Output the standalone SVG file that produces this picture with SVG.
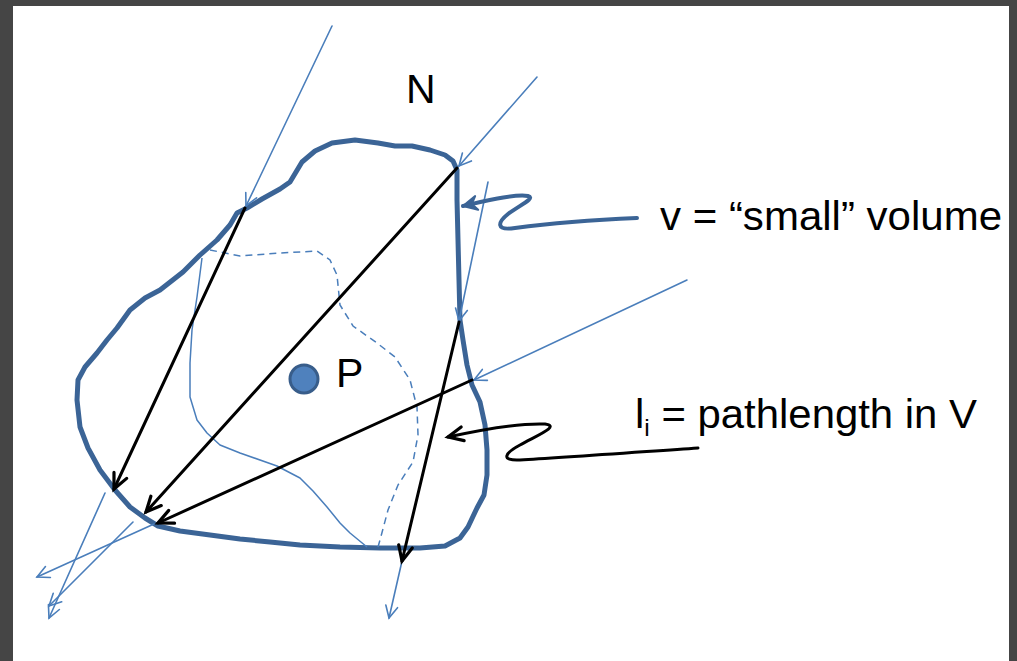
<svg xmlns="http://www.w3.org/2000/svg" width="1017" height="661" viewBox="0 0 1017 661">
<style>
.blob{fill:none;stroke:#3b6496;stroke-width:5;stroke-linejoin:round;stroke-linecap:round}
.ray{fill:none;stroke:#4a7ebb;stroke-width:1.6;stroke-linecap:round}
.path{fill:none;stroke:#000;stroke-width:3;stroke-linecap:round}
.thin{fill:none;stroke:#4a7ebb;stroke-width:1.5;stroke-linejoin:round}
.dash{fill:none;stroke:#4a7ebb;stroke-width:1.5;stroke-dasharray:7 5}
.lbl{font-family:"Liberation Sans",Arial,sans-serif;font-size:41px;fill:#000}
</style>
<defs>
<marker id="ab" markerUnits="userSpaceOnUse" markerWidth="30" markerHeight="30" viewBox="-20 -15 30 30" refX="0" refY="0" orient="auto" overflow="visible">
<path d="M-15,-7 L0,0 L-15,7" fill="none" stroke="#000" stroke-width="3.2" stroke-linecap="round" stroke-linejoin="miter"/>
</marker>
<marker id="abl" markerUnits="userSpaceOnUse" markerWidth="30" markerHeight="30" viewBox="-20 -15 30 30" refX="0" refY="0" orient="auto" overflow="visible">
<path d="M-12,-6 L0,0 L-12,6" fill="none" stroke="#4a7ebb" stroke-width="1.6" stroke-linecap="round"/>
</marker>
<marker id="asq" markerUnits="userSpaceOnUse" markerWidth="30" markerHeight="30" viewBox="-20 -15 30 30" refX="0" refY="0" orient="auto" overflow="visible">
<path d="M-14,-7 L0,0 L-14,7 L-9,0 Z" fill="#3b6496" stroke="#3b6496" stroke-width="2" stroke-linejoin="round"/>
</marker>
</defs>
<rect x="0" y="0" width="1017" height="661" fill="#454545"/>
<rect x="13" y="6" width="996" height="655" fill="#ffffff"/>

<g id="volume-blob">
<path class="blob" d="M247,208 L262,199 L280,189 L290,182 L296,172 L302,162 L315,151 L332,143 L355,140 L378,143 L395,146 L412,146 L430,150 L445,155 L453,161 L457,170 L457,200 L458,240 L459,280 L460,320 L463,340 L467,365 L472,385 L480,402 L485,425 L487,450 L487,475 L484,495 L477,508 L468,527 L460,538 L445,546 L420,548 L380,548 L340,547 L300,545 L270,542 L240,539 L210,535 L180,531 L158,526 L145,518 L130,507 L115,490 L100,470 L88,448 L80,427 L77,400 L78,380 L85,367 L97,353 L107,340 L117,328 L130,310 L145,298 L160,290 L183,272 L200,255 L217,240 L230,225 L237,213 Z"/>
</g>

<g id="inner-regions">
<path class="thin" d="M202,258 L197,297 L192,330 L190,363 L190,397 L197,420 L207,433 L220,445 L240,453 L277,466 L300,478 L313,491 L327,507 L340,523 L350,533 L367,547"/>
<path class="dash" d="M210,250 L240,256 L280,253 L317,251 L330,260 L337,275 L340,305 L353,326 L377,343 L395,357 L410,380 L417,407 L418,435 L413,462 L398,485 L388,510 L380,540 L378,547"/>
</g>

<g id="point-P">
<circle cx="304" cy="379" r="14" fill="#4f81bd" stroke="#385d8a" stroke-width="3"/>
<text class="lbl" x="336" y="387">P</text>
</g>

<g id="label-N">
<text class="lbl" x="406" y="103">N</text>
</g>

<g id="label-v">
<text class="lbl" x="660" y="230" textLength="342" lengthAdjust="spacingAndGlyphs">v = “small” volume</text>
</g>

<g id="label-li">
<text class="lbl" x="635" y="428" textLength="342" lengthAdjust="spacingAndGlyphs">l<tspan font-size="24" dy="8">i</tspan><tspan dy="-8"> = pathlength  in V</tspan></text>
</g>

<g id="connectors">
<!-- incoming rays -->
<line class="ray" x1="332" y1="26" x2="246" y2="206" marker-end="url(#abl)"/>
<line class="ray" x1="537" y1="77" x2="459" y2="166" marker-end="url(#abl)"/>
<line class="ray" x1="488" y1="182" x2="459" y2="321" marker-end="url(#abl)"/>
<line class="ray" x1="687" y1="280" x2="474" y2="380" marker-end="url(#abl)"/>
<!-- outgoing rays -->
<line class="ray" x1="105" y1="493" x2="49" y2="618" marker-end="url(#abl)"/>
<line class="ray" x1="133" y1="522" x2="49" y2="606" marker-end="url(#abl)"/>
<line class="ray" x1="154" y1="524" x2="37" y2="577" marker-end="url(#abl)"/>
<line class="ray" x1="402" y1="561" x2="389" y2="618" marker-end="url(#abl)"/>
<!-- path lengths -->
<line class="path" x1="245" y1="208" x2="114" y2="489" marker-end="url(#ab)"/>
<line class="path" x1="457" y1="168" x2="146" y2="512" marker-end="url(#ab)"/>
<line class="path" x1="472" y1="380" x2="158" y2="523" marker-end="url(#ab)"/>
<line class="path" x1="459" y1="322" x2="402" y2="561" marker-end="url(#ab)"/>
<!-- label pointers -->
<path d="M637,218 C590,220 545,224 515,228 C495,231 498,222 508,214 C520,205 536,198 528,196 C515,194 490,200 463,206" fill="none" stroke="#3b6496" stroke-width="4" stroke-linecap="round" stroke-linejoin="round" marker-end="url(#asq)"/>
<path d="M698,448 C640,452 560,458 520,460 C500,461 505,453 520,445 C540,434 560,426 545,424 C520,423 480,430 448,437" fill="none" stroke="#000" stroke-width="3" stroke-linecap="round" stroke-linejoin="round" marker-end="url(#ab)"/>
</g>
</svg>
